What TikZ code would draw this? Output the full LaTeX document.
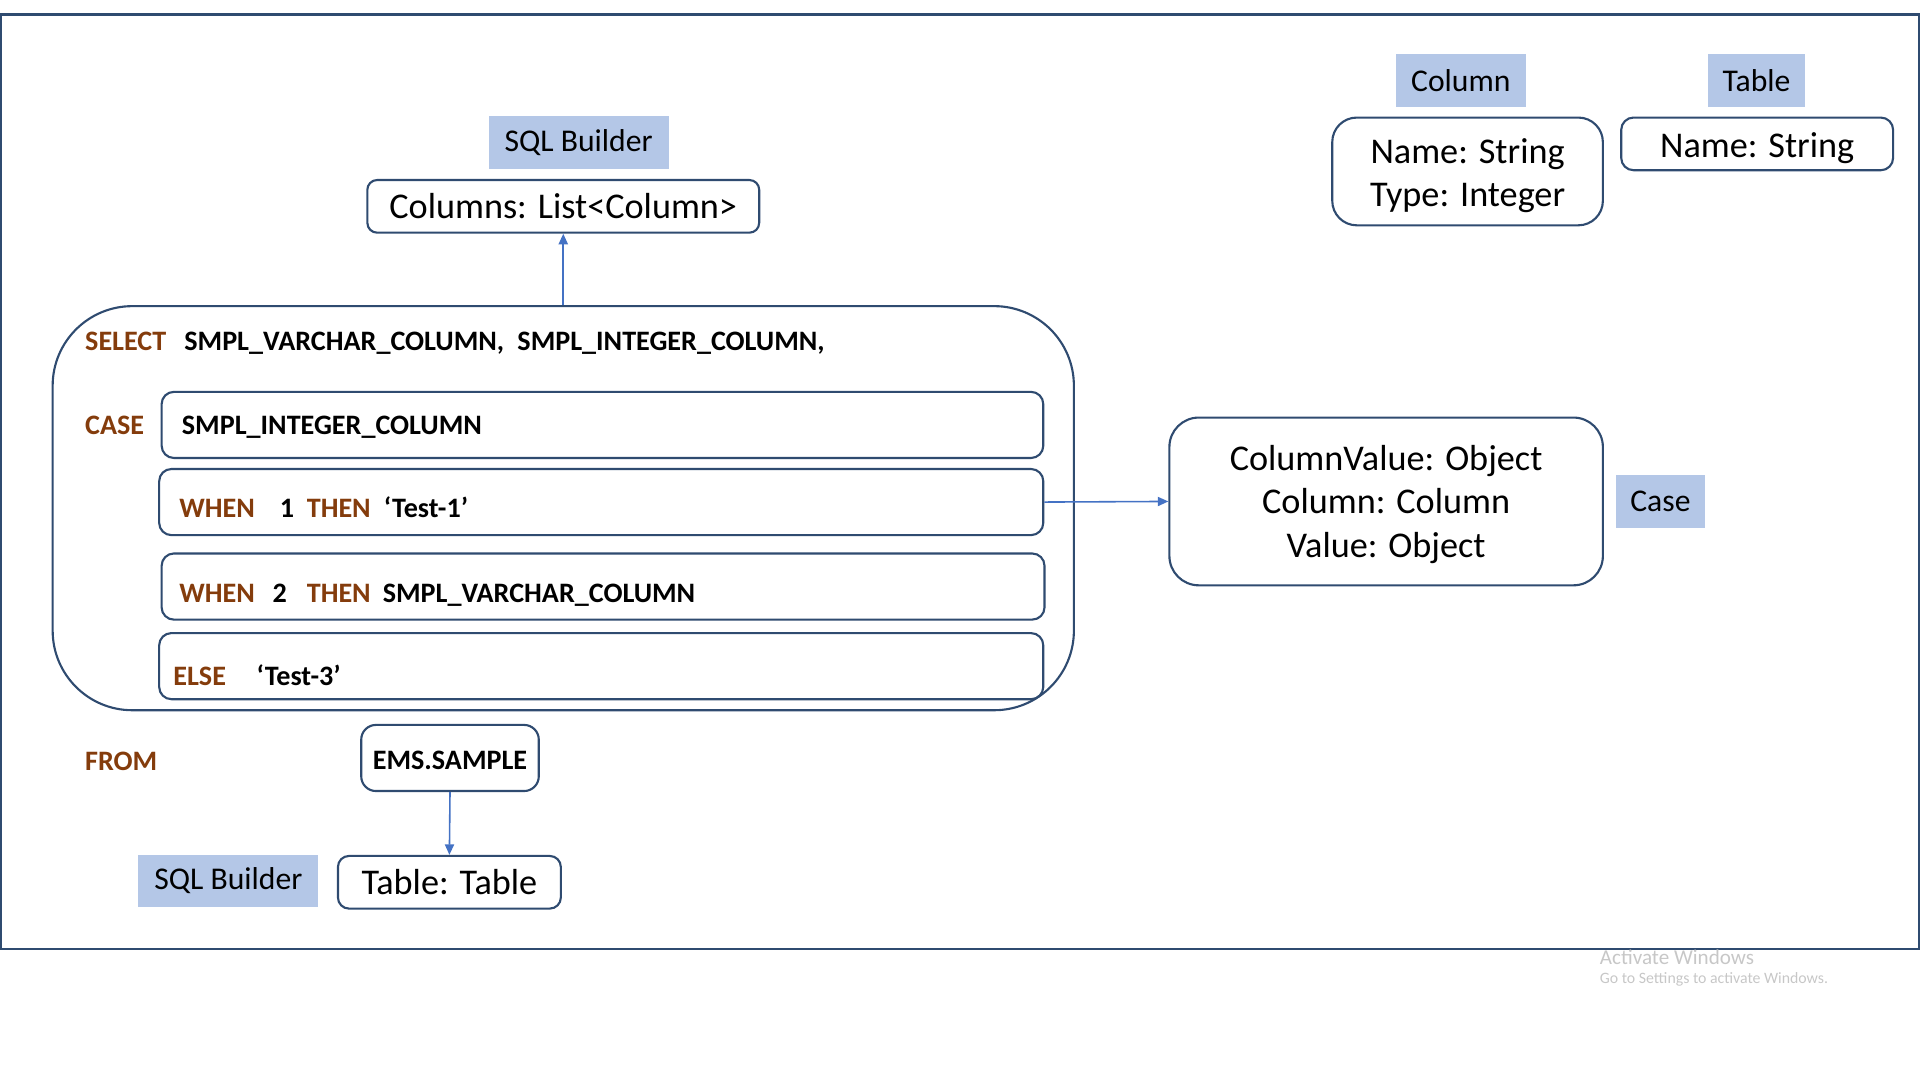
\documentclass[tikz,border=0pt]{standalone}
\usepackage{fontspec}
\setmainfont{Carlito}
\usetikzlibrary{arrows.meta}
\newlength{\ux}\setlength{\ux}{0.012245cm}
\definecolor{edge}{HTML}{2F4B70}
\definecolor{tag}{HTML}{B4C7E7}
\definecolor{link}{HTML}{4472C4}
\definecolor{kwd}{HTML}{843C0C}
\newcommand{\kw}[1]{\textcolor{kwd}{#1}}
% text sits a little low in the boxes
\newcommand{\dn}[2][3]{\raisebox{-#1\ux}[\height][\depth]{\begin{tabular}{@{}c@{}}#2\end{tabular}}}
\tikzset{
  tagbox/.style={fill=tag, inner sep=0pt, font=\fontsize{9}{11}\selectfont},
  classbox/.style={draw=edge, line width=0.6pt, fill=white, align=center, inner sep=0pt, font=\fontsize{10.3}{12.4}\selectfont},
  rowbox/.style={draw=edge, line width=0.6pt, rounded corners=10\ux, minimum width=720\ux, minimum height=54\ux},
  code/.style={anchor=base west, inner sep=0pt, font=\bfseries\fontsize{8}{10}\selectfont},
  flow/.style={draw=link, line width=0.45pt, -{Triangle[length=3pt,width=2.6pt]}},
  winmark/.style={anchor=west, inner sep=0pt, text=black!22}
}
\begin{document}
\begin{tikzpicture}[x=\ux, y=-\ux]
\useasboundingbox (0,0) rectangle (1568,882);
\draw[edge, line width=0.7pt] (0.5,12) rectangle (1567,775);
% select statement
\node[classbox, rounded corners=65\ux, minimum width=834\ux, minimum height=330\ux] (stmt) at (460,415) {};
\node[tagbox, minimum width=147\ux, minimum height=43\ux] (topbuilder) at (472.5,116.5) {SQL Builder};
\node[classbox, rounded corners=8\ux, minimum width=320\ux, minimum height=43\ux] (columns) at (460,168.5) {\dn[3]{Columns: List<Column>}};
\draw[flow] (stmt.north) -- (columns.south);
\node[code] (selkw) at (69,286) {\kw{SELECT}};
\node[code] (sellist) at (150,286) {SMPL\_VARCHAR\_COLUMN,};
\node[code] (sellist2) at (422,286) {SMPL\_INTEGER\_COLUMN,};
\node[code] (casekw) at (69,355) {\kw{CASE}};
% case rows
\node[rowbox] (row1) at (492,347) {};
\node[rowbox, minimum width=722\ux] (row2) at (491,410) {};
\node[rowbox, minimum width=721\ux] (row3) at (492.5,479) {};
\node[rowbox, minimum width=722\ux] (row4) at (491,544) {};
\node[code] (casecol) at (148,355) {SMPL\_INTEGER\_COLUMN};
\node[code] (when1) at (146,423) {\makebox[82\ux][l]{\kw{WHEN}}\makebox[22\ux][l]{1}\makebox[63\ux][l]{\kw{THEN}}‘Test-1’};
\node[code] (when2) at (146,492) {\makebox[76\ux][l]{\kw{WHEN}}\makebox[28\ux][l]{2}\makebox[62\ux][l]{\kw{THEN}}SMPL\_VARCHAR\_COLUMN};
\node[code] (else) at (141,560) {\makebox[68\ux][l]{\kw{ELSE}}‘Test-3’};
% case object
\node[classbox, rounded corners=24\ux, minimum width=354\ux, minimum height=137\ux] (caseobj) at (1132,409.5) {\dn{ColumnValue: Object\\Column: Column\\Value: Object}};
\node[tagbox, minimum width=72\ux, minimum height=43\ux] (casetag) at (1356,409.5) {Case};
\draw[flow] (row2.east) -- (caseobj.west);
% from clause
\node[code] (fromkw) at (69,629) {\kw{FROM}};
\node[classbox, rounded corners=12\ux, minimum width=145\ux, minimum height=54\ux, font=\bfseries\fontsize{8}{10}\selectfont] (source) at (367.5,619) {\dn[4]{EMS.SAMPLE}};
\node[tagbox, minimum width=147\ux, minimum height=43\ux] (lowbuilder) at (186.5,719.5) {SQL Builder};
\node[classbox, rounded corners=9\ux, minimum width=182\ux, minimum height=43\ux] (tablefield) at (367,720.5) {\dn[3]{Table: Table}};
\draw[flow] (source.south) -- (tablefield.north);
% column and table classes
\node[tagbox, minimum width=106\ux, minimum height=43\ux] (columntag) at (1193,65.5) {Column};
\node[classbox, rounded corners=20\ux, minimum width=221\ux, minimum height=88\ux] (columnobj) at (1198.5,140) {\dn[4]{Name: String\\Type: Integer}};
\node[tagbox, minimum width=79\ux, minimum height=43\ux] (tabletag) at (1434.5,65.5) {Table};
\node[classbox, rounded corners=10\ux, minimum width=222\ux, minimum height=43\ux] (tableobj) at (1435,117.5) {\dn[4]{Name: String}};
% watermark
\node[winmark, font=\fontsize{6}{7}\selectfont] (wm1) at (1306,782) {Activate Windows};
\node[winmark, font=\fontsize{4.5}{5}\selectfont] (wm2) at (1306,800) {Go to Settings to activate Windows.};
\end{tikzpicture}
\end{document}
